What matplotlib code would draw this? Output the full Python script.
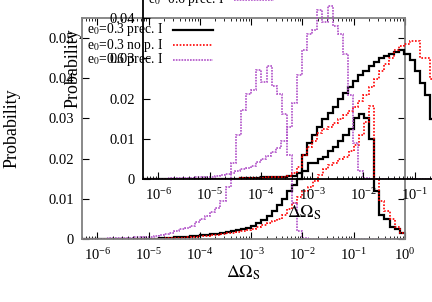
import numpy as np
import matplotlib
matplotlib.use("Agg")
import matplotlib.pyplot as plt
from matplotlib.ticker import LogLocator, FixedLocator, FuncFormatter, NullFormatter

plt.rcParams['font.family'] = ['Liberation Serif', 'DejaVu Serif']
plt.rcParams['mathtext.fontset'] = 'stix'

# ---------------- data (log10 bin grid, 0.1 dex) ----------------
log_lo, log_hi, dlog = -6.3, 0.0, 0.1

labels = ["e$_0$=0.3 prec. I", "e$_0$=0.3 no p. I", "e$_0$=0.6 prec. I"]

# purple: e0=0.6 prec. I (same in both panels)
purple = [0, 0.0001, 0.0001,
          0.0001, 0.0001, 0.0002, 0.0002, 0.0002, 0.0003, 0.0003, 0.0004, 0.0004, 0.0005,
          0.0006, 0.0008, 0.0010, 0.0013, 0.0016, 0.0020, 0.0024, 0.0028, 0.0033, 0.0042,
          0.0050, 0.0058, 0.0067, 0.0076, 0.0095, 0.0130, 0.0190, 0.0260, 0.0320, 0.0360,
          0.0370, 0.0420, 0.0390, 0.0430, 0.0380, 0.0360, 0.0310, 0.0210, 0.0090, 0.0020,
          0.0003, 0, 0, 0, 0, 0, 0, 0, 0, 0,
          0, 0, 0, 0, 0, 0, 0, 0, 0, 0]

# main panel
black_main = [0, 0, 0,
              0, 0, 0, 0, 0, 0, 0, 0, 0, 0,
              0.0001, 0.0001, 0.0002, 0.0002, 0.0003, 0.0004, 0.0005, 0.0005, 0.0007, 0.0008,
              0.0009, 0.0010, 0.0012, 0.0012, 0.0015, 0.0017, 0.0020, 0.0022, 0.0025, 0.0028,
              0.0033, 0.0040, 0.0048, 0.0058, 0.0070, 0.0085, 0.0100, 0.0120, 0.0135, 0.0150,
              0.0170, 0.0190, 0.0190, 0.0200, 0.0205, 0.0220, 0.0230, 0.0245, 0.0260, 0.0275,
              0.0300, 0.0310, 0.0300, 0.0250, 0.0120, 0.0060, 0.0050, 0.0030, 0.0025, 0.0015]

red_main = [0, 0, 0,
            0, 0, 0, 0, 0, 0, 0, 0, 0, 0,
            0.0001, 0.0001, 0.0001, 0.0002, 0.0002, 0.0003, 0.0003, 0.0004, 0.0005, 0.0006,
            0.0007, 0.0008, 0.0009, 0.0010, 0.0012, 0.0014, 0.0016, 0.0018, 0.0020, 0.0022,
            0.0025, 0.0030, 0.0035, 0.0040, 0.0045, 0.0050, 0.0060, 0.0075, 0.0090, 0.0105,
            0.0120, 0.0130, 0.0145, 0.0160, 0.0175, 0.0185, 0.0190, 0.0200, 0.0205, 0.0220,
            0.0235, 0.0260, 0.0290, 0.0330, 0.0150, 0.0095, 0.0070, 0.0050, 0.0030, 0.0015]

# inset panel
black_inset = [0, 0, 0,
               0, 0, 0, 0, 0, 0, 0, 0, 0, 0,
               0, 0, 0, 0.0001, 0.0001, 0.0001, 0.0002, 0.0002, 0.0003, 0.0003,
               0.0004, 0.0004, 0.0005, 0.0005, 0.0006, 0.0007, 0.0008, 0.0015, 0.0060, 0.0090,
               0.0110, 0.0130, 0.0150, 0.0165, 0.0180, 0.0200, 0.0215, 0.0230, 0.0245, 0.0260,
               0.0270, 0.0280, 0.0290, 0.0300, 0.0305, 0.0310, 0.0315, 0.0320, 0.0310, 0.0295,
               0.0270, 0.0240, 0.0210, 0.0150, 0.0080, 0.0050, 0.0030, 0.0020, 0.0010, 0.0005]

red_inset = [0, 0, 0,
             0, 0, 0, 0, 0, 0, 0, 0, 0, 0,
             0, 0, 0, 0.0001, 0.0001, 0.0001, 0.0002, 0.0002, 0.0002, 0.0003,
             0.0003, 0.0004, 0.0004, 0.0005, 0.0006, 0.0008, 0.0015, 0.0030, 0.0060, 0.0080,
             0.0095, 0.0115, 0.0125, 0.0130, 0.0140, 0.0150, 0.0160, 0.0170, 0.0180, 0.0195,
             0.0210, 0.0230, 0.0250, 0.0270, 0.0285, 0.0300, 0.0320, 0.0330, 0.0337, 0.0344,
             0.0344, 0.0300, 0.0300, 0.0250, 0.0150, 0.0080, 0.0050, 0.0030, 0.0015, 0.0008]

xlabel = r"$\Delta\Omega_{\mathrm{S}}$"
ylabel = "Probability"
yticks = [0, 0.01, 0.02, 0.03, 0.04, 0.05]

edges = 10 ** (log_lo + dlog * np.arange(len(purple) + 1))

W, H = 432, 302
fig = plt.figure(figsize=(W / 100, H / 100), dpi=100)


def rect(l, t, r, b):
    return [l / W, 1 - b / H, (r - l) / W, (b - t) / H]


def style_axes(ax, frame_color):
    ax.set_xscale('log')
    ax.set_xlim(5e-7, 1)
    ax.set_ylim(0, 0.055)
    ax.patch.set_visible(False)
    for s in ax.spines.values():
        s.set_color(frame_color)
        s.set_linewidth(1.3)
    ax.xaxis.set_major_locator(LogLocator(base=10, numticks=20))
    ax.xaxis.set_minor_locator(LogLocator(base=10, subs=np.arange(2, 10), numticks=20))
    ax.xaxis.set_minor_formatter(NullFormatter())
    ax.yaxis.set_major_locator(FixedLocator(yticks))
    ax.yaxis.set_major_formatter(FuncFormatter(lambda v, p: "0" if abs(v) < 1e-9 else f"{v:.2f}"))
    ax.tick_params(which='both', direction='in', top=True, right=True,
                   labelsize=10.5, colors='black')
    ax.tick_params(which='major', length=5, width=0.8, pad=6)
    ax.tick_params(which='minor', length=2.5, width=0.6)
    for t in ax.xaxis.get_ticklines(minor=True) + ax.xaxis.get_ticklines() + ax.yaxis.get_ticklines():
        t.set_color(frame_color)
    ax.set_xlabel(xlabel, fontsize=13)
    ax.set_ylabel(ylabel, fontsize=13)
    ax.xaxis.set_label_coords(0.5, -0.155)
    ax.xaxis.label.set_va('center')
    ax.yaxis.set_label_coords(-0.218, 0.5)
    ax.yaxis.label.set_va('center')


def draw(ax, black, red):
    series = [(black, 'black', '-', 1.6), (red, '#ff0000', (0, (1, 1)), 1.2),
              (purple, '#b050c8', (0, (1, 0.7)), 1.2)]
    for i, (vals, col, ls, lw) in enumerate(series):
        ax.stairs(vals, edges, baseline=None, color=col, linestyle=ls, linewidth=lw)
        yrow = 1 - (12 + 15 * i) / 221
        ax.text(0.252, yrow, labels[i], transform=ax.transAxes, ha='right', va='center',
                fontsize=9.8)
        ax.plot([0.282, 0.406], [yrow, yrow], transform=ax.transAxes, color=col,
                linestyle=ls, linewidth=lw, clip_on=False)


ax = fig.add_axes(rect(82, 18, 405, 239))
style_axes(ax, '#808080')
draw(ax, black_main, red_main)

axi = fig.add_axes(rect(143, -42, 466, 179))
style_axes(axi, 'black')
draw(axi, black_inset, red_inset)

fig.savefig("out.png", dpi=100)
